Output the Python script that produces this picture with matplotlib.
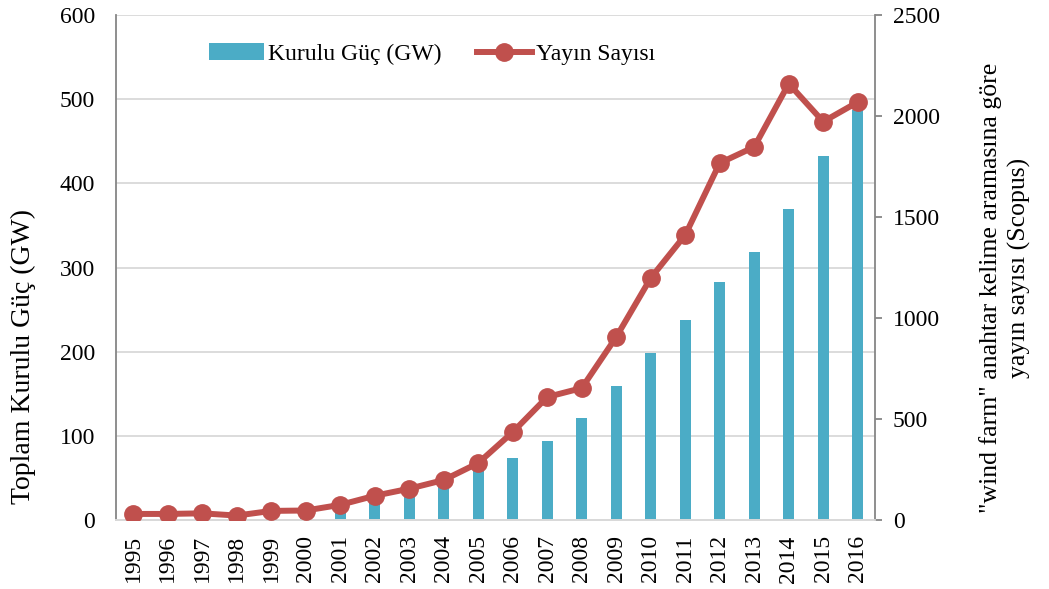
import matplotlib
matplotlib.use("Agg")
import matplotlib.pyplot as plt
import numpy as np

years = ["1995", "1996", "1997", "1998", "1999", "2000", "2001", "2002", "2003", "2004", "2005",
         "2006", "2007", "2008", "2009", "2010", "2011", "2012", "2013", "2014", "2015", "2016"]
capacity_gw = [4.8, 6.1, 7.6, 10.2, 13.6, 17.4, 23.9, 31.1, 39.4, 47.6, 59.1,
               74, 94, 121, 159, 198, 238, 283, 318, 370, 433, 487]
publications = [30, 30, 33, 22, 45, 47, 75, 120, 155, 198, 282,
                435, 609, 653, 906, 1198, 1411, 1767, 1847, 2160, 1972, 2069]

bar_label = "Kurulu Güç (GW)"
line_label = "Yayın Sayısı"
left_ylabel = "Toplam Kurulu Güç (GW)"
right_ylabel_1 = "\"wind farm\" anahtar kelime aramasına göre"
right_ylabel_2 = "yayın sayısı (Scopus)"

plt.rcParams['font.family'] = ['Liberation Serif', 'DejaVu Serif']
plt.rcParams['font.size'] = 17

W, H = 1049, 589
fig = plt.figure(figsize=(W / 100, H / 100), dpi=100)
ax = fig.add_axes([116/W, 69/H, (875-116)/W, (520-15)/H])
ax2 = ax.twinx()

x = np.arange(len(years))
bars = ax.bar(x, capacity_gw, width=0.32, color="#4BACC6", label=bar_label, zorder=2)
ax.set_ylim(0, 600)
ax.set_yticks(np.arange(0, 601, 100))
ax.set_xlim(-0.5, len(years) - 0.5)
ax.set_xticks(x)
ax.set_xticklabels(years, rotation=90)
ax.grid(axis="y", color="#D9D9D9", linewidth=1.3)
ax.set_axisbelow(True)
ax.tick_params(axis="y", length=0, labelsize=17, pad=15)
ax.tick_params(axis="x", length=0, labelsize=17, pad=11)

line, = ax2.plot(x, publications, color="#C0504D", linewidth=4.3, marker="o",
                 markersize=12.5, label=line_label, zorder=3)
ax2.set_ylim(0, 2500)
ax2.set_yticks(np.arange(0, 2501, 500))
ax2.tick_params(axis="y", length=5, width=1.3, color="#868686", labelsize=17, pad=8)

for a in (ax, ax2):
    a.spines["top"].set_visible(False)
    a.spines["left"].set_color("#868686")
    a.spines["right"].set_color("#868686")
    a.spines["left"].set_linewidth(1.3)
    a.spines["right"].set_linewidth(1.3)
    a.spines["bottom"].set_color("#D9D9D9")
    a.spines["bottom"].set_linewidth(1.3)
ax.spines["right"].set_visible(False)
ax2.spines["left"].set_visible(False)

fig.text(23/W, 1 - 357/H, left_ylabel, rotation=90, ha="center", va="center", fontsize=20)
fig.text(991/W, 1 - 288/H, right_ylabel_1, rotation=90, ha="center", va="center", fontsize=18.5)
fig.text(1019/W, 1 - 268/H, right_ylabel_2, rotation=90, ha="center", va="center", fontsize=18.5)

leg = fig.legend([bars, line], [bar_label, line_label], loc="center left",
                 bbox_to_anchor=(188/W, 1 - 54/H), ncol=2, frameon=False,
                 fontsize=17, handlelength=2.3, handletextpad=0.2, columnspacing=1.5)

fig.savefig("out.png", dpi=100)
